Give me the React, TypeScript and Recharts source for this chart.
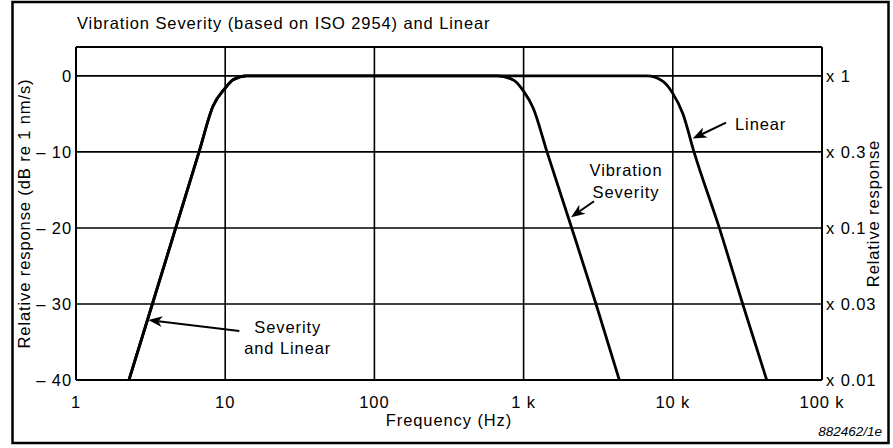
import React from "react";
import {
  LineChart,
  Line,
  XAxis,
  YAxis,
  CartesianGrid,
  ReferenceLine,
  ReferenceDot,
} from "recharts";

// ---- data ----
const FREQ_TICKS = [1, 10, 100, 1000, 10000, 100000];
const FREQ_LABELS = ["1", "10", "100", "1 k", "10 k", "100 k"];
const DB_TICKS = [-40, -30, -20, -10, 0];
const DB_LABELS = ["\u2013 40", "\u2013 30", "\u2013 20", "\u2013 10", "0"];
const RATIO_LABELS = ["x 0.01", "x 0.03", "x 0.1", "x 0.3", "x 1"];
const DB_MAX = 3.8;

const sharedLowFreq = [2.265, 3.25, 4.66, 6.68, 8.28, 10, 11.3, 13.9];
const sharedLowDb = [-40, -30, -20, -10, -4, -1.6, -0.5, 0];
const severityHighFreq = [663, 853, 1000, 1161, 1435, 2101, 3057, 4380];
const severityHighDb = [0, -0.53, -2, -4.25, -10, -20, -30, -40];
const linearHighFreq = [6683, 8636, 10000, 11700, 13870, 20500, 29410, 42600];
const linearHighDb = [0, -0.75, -2.3, -5, -10, -20, -30, -40];

// annotation arrows: [tailF, tailDb, headF, headDb]
const arrowLinear = [22740, -6.14, 13595, -8.25];
const arrowSeverity = [2963, -16.49, 2078, -18.6];
const arrowBoth = [12.43, -33.55, 3.052, -32.1];

// annotation texts: [text, f, db, anchor]
const noteTexts: [string, number, number, string][] = [
  ["Linear", 26120, -7.1, "start"],
  ["Vibration", 4858, -13.16, "middle"],
  ["Severity", 4858, -16.05, "middle"],
  ["Severity", 26.24, -33.78, "middle"],
  ["and Linear", 26.24, -36.58, "middle"],
];

const toPts = (f: number[], d: number[]) => f.map((v, i) => ({ f: v, db: d[i] }));
const severityData = toPts(
  [...sharedLowFreq, ...severityHighFreq],
  [...sharedLowDb, ...severityHighDb]
);
const linearData = toPts(
  [...sharedLowFreq, ...linearHighFreq],
  [...sharedLowDb, ...linearHighDb]
);

const FONT = "'Liberation Sans', Arial, Helvetica, sans-serif";
const FS = 16.5;
const LS = 0.9;
const INK = "#000";

const arrowShape = (p: any) => {
  const { x1, y1, x2, y2 } = p;
  const dx = x2 - x1;
  const dy = y2 - y1;
  const len = Math.sqrt(dx * dx + dy * dy) || 1;
  const ux = dx / len;
  const uy = dy / len;
  const L = 14;
  const W = 5.5;
  const bx = x2 - ux * L;
  const by = y2 - uy * L;
  const nx = x2 - ux * L * 0.72;
  const ny = y2 - uy * L * 0.72;
  const pts = [
    [x2, y2],
    [bx - uy * W, by + ux * W],
    [nx, ny],
    [bx + uy * W, by - ux * W],
  ]
    .map((q) => q.join(","))
    .join(" ");
  return (
    <g>
      <line x1={x1} y1={y1} x2={nx} y2={ny} stroke={INK} strokeWidth={2} />
      <polygon points={pts} fill={INK} />
    </g>
  );
};

const makeTextShape = (txt: string, anchor: string) => (p: any) => (
  <text
    x={p.cx}
    y={p.cy}
    textAnchor={anchor as any}
    fontFamily={FONT}
    fontSize={FS}
    letterSpacing={LS}
    fill={INK}
  >
    {txt}
  </text>
);

const seg = (a: number[]) => [
  { x: a[0], y: a[1] },
  { x: a[2], y: a[3] },
];

const tickStyle = { fill: INK, fontSize: FS, fontFamily: FONT, letterSpacing: LS };

export default function App() {
  return (
    <div style={{ position: "absolute", left: 0, top: 0, width: 893, height: 448, background: "#fff" }}>
      <LineChart
        width={893}
        height={448}
        margin={{ top: 47, right: 0, bottom: 0, left: 0 }}
      >
        <CartesianGrid yAxisId="left" stroke={INK} strokeWidth={1.6} />
        <XAxis
          dataKey="f"
          type="number"
          scale="log"
          domain={[1, 100000]}
          ticks={FREQ_TICKS}
          interval={0}
          allowDataOverflow
          height={68}
          tickSize={0}
          tickMargin={16}
          tickFormatter={(v: number) => FREQ_LABELS[FREQ_TICKS.indexOf(v)] ?? ""}
          tick={tickStyle}
          axisLine={{ stroke: INK, strokeWidth: 2 }}
        />
        <YAxis
          yAxisId="left"
          orientation="left"
          type="number"
          domain={[-40, DB_MAX]}
          ticks={DB_TICKS}
          interval={0}
          allowDataOverflow
          width={76}
          tickSize={0}
          tickMargin={4}
          tickFormatter={(v: number) => DB_LABELS[DB_TICKS.indexOf(v)] ?? ""}
          tick={tickStyle}
          axisLine={{ stroke: INK, strokeWidth: 2 }}
        />
        <YAxis
          yAxisId="right"
          orientation="right"
          type="number"
          domain={[-40, DB_MAX]}
          ticks={DB_TICKS}
          interval={0}
          allowDataOverflow
          width={71}
          tickSize={0}
          tickMargin={4}
          tickFormatter={(v: number) => RATIO_LABELS[DB_TICKS.indexOf(v)] ?? ""}
          tick={tickStyle}
          axisLine={{ stroke: INK, strokeWidth: 2 }}
        />
        <ReferenceLine yAxisId="left" y={DB_MAX} stroke={INK} strokeWidth={2} />
        <Line
          yAxisId="left"
          data={severityData}
          dataKey="db"
          type="monotone"
          stroke={INK}
          strokeWidth={2.8}
          dot={false}
          isAnimationActive={false}
        />
        <Line
          yAxisId="left"
          data={linearData}
          dataKey="db"
          type="monotone"
          stroke={INK}
          strokeWidth={2.8}
          dot={false}
          isAnimationActive={false}
        />
        <ReferenceLine yAxisId="left" segment={seg(arrowLinear)} shape={arrowShape} />
        <ReferenceLine yAxisId="left" segment={seg(arrowSeverity)} shape={arrowShape} />
        <ReferenceLine yAxisId="left" segment={seg(arrowBoth)} shape={arrowShape} />
        {noteTexts.map(([t, f, db, a], i) => (
          <ReferenceDot
            key={i}
            yAxisId="left"
            x={f}
            y={db}
            r={1}
            shape={makeTextShape(t, a)}
          />
        ))}
      </LineChart>
      <svg
        width={893}
        height={448}
        style={{ position: "absolute", left: 0, top: 0, pointerEvents: "none" }}
      >
        <rect x={12.5} y={2} width={876} height={441} fill="none" stroke={INK} strokeWidth={2.5} />
        <text x={77} y={29} fontFamily={FONT} fontSize={FS} letterSpacing={LS} fill={INK}>
          Vibration Severity (based on ISO 2954) and Linear
        </text>
        <text x={449} y={426} textAnchor="middle" fontFamily={FONT} fontSize={FS} letterSpacing={LS} fill={INK}>
          Frequency (Hz)
        </text>
        <text
          x={0}
          y={0}
          transform="translate(29.5,213.5) rotate(-90)"
          textAnchor="middle"
          fontFamily={FONT}
          fontSize={FS}
          letterSpacing={LS}
          fill={INK}
        >
          Relative response (dB re 1 nm/s)
        </text>
        <text
          x={0}
          y={0}
          transform="translate(879,213.5) rotate(-90)"
          textAnchor="middle"
          fontFamily={FONT}
          fontSize={FS}
          letterSpacing={LS}
          fill={INK}
        >
          Relative response
        </text>
        <text
          x={882}
          y={436}
          textAnchor="end"
          fontFamily={FONT}
          fontSize={13.5}
          fontStyle="italic"
          fill={INK}
        >
          882462/1e
        </text>
      </svg>
    </div>
  );
}
